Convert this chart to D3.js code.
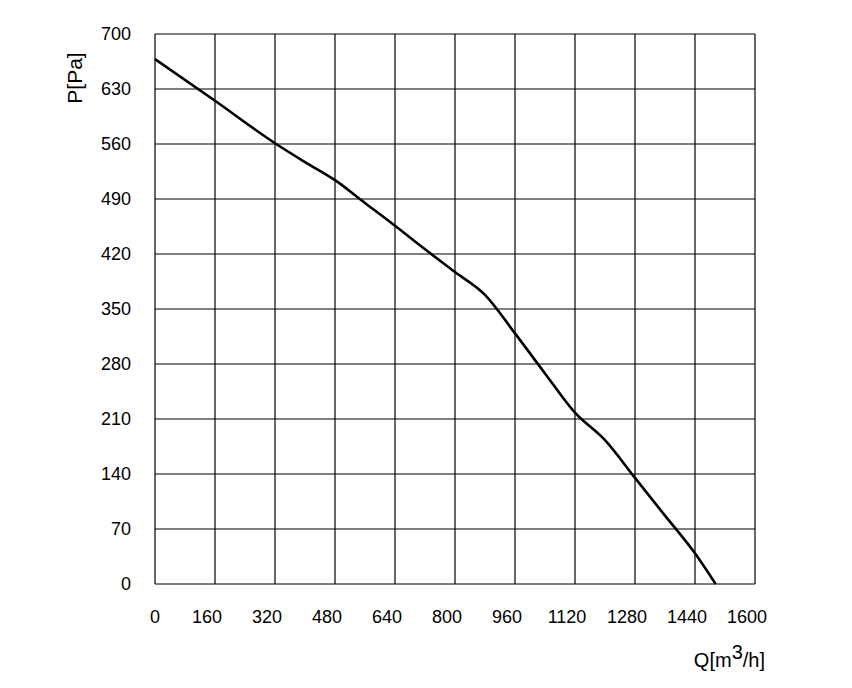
<!DOCTYPE html>
<html><head><meta charset="utf-8">
<script src="https://cdn.jsdelivr.net/npm/d3@7"></script>
<style>body{margin:0;background:#fff}</style>
</head><body>
<svg id="chart" width="852" height="688"></svg>
<script>
// flow Q [m3/h] and pressure P [Pa]
const flowQ = [0, 160, 320, 400, 480, 560, 640, 720, 800, 880, 960, 1040, 1120, 1200, 1280, 1360, 1440, 1495];
const pressureP = [668, 615, 561, 537, 514, 485, 456, 426, 397, 368, 319, 268, 218, 183, 135, 87, 39, 0];
const xTicks = d3.range(0, 1601, 160);
const yTicks = d3.range(0, 701, 70);

const svg = d3.select('#chart');
const x = d3.scaleLinear().domain([0, 1600]).range([155, 755]);
const y = d3.scaleLinear().domain([0, 700]).range([584, 34]);

const grid = svg.append('g').attr('stroke', '#000').attr('stroke-width', 1.2);
grid.selectAll('.v').data(xTicks).enter().append('line')
  .attr('x1', d => x(d)).attr('x2', d => x(d)).attr('y1', y(0)).attr('y2', y(700));
grid.selectAll('.h').data(yTicks).enter().append('line')
  .attr('x1', x(0)).attr('x2', x(1600)).attr('y1', d => y(d)).attr('y2', d => y(d));

const font = "'Liberation Sans', Arial, sans-serif";
svg.append('g').selectAll('text').data(xTicks).enter().append('text')
  .attr('x', d => x(d) - (d ? 8 : 0)).attr('y', 623).attr('text-anchor', 'middle')
  .attr('font-family', font).attr('font-size', 18).text(d => d);
svg.append('g').selectAll('text').data(yTicks).enter().append('text')
  .attr('x', 131).attr('y', d => y(d) + 6).attr('text-anchor', 'end')
  .attr('font-family', font).attr('font-size', 18).text(d => d);

const line = d3.line().x(d => x(d[0])).y(d => y(d[1])).curve(d3.curveMonotoneX);
svg.append('path').datum(flowQ.map((q, i) => [q, pressureP[i]]))
  .attr('d', line).attr('fill', 'none').attr('stroke', '#000').attr('stroke-width', 2.6);

svg.append('text').attr('transform', 'translate(82,78) rotate(-90)')
  .attr('text-anchor', 'middle').attr('font-family', font).attr('font-size', 21).text('P[Pa]');
const ql = svg.append('text').attr('x', 765).attr('y', 667).attr('text-anchor', 'end')
  .attr('font-family', font).attr('font-size', 20);
ql.append('tspan').text('Q[m');
ql.append('tspan').attr('dy', -8).text('3');
ql.append('tspan').attr('dy', 8).text('/h]');
</script>
</body></html>
